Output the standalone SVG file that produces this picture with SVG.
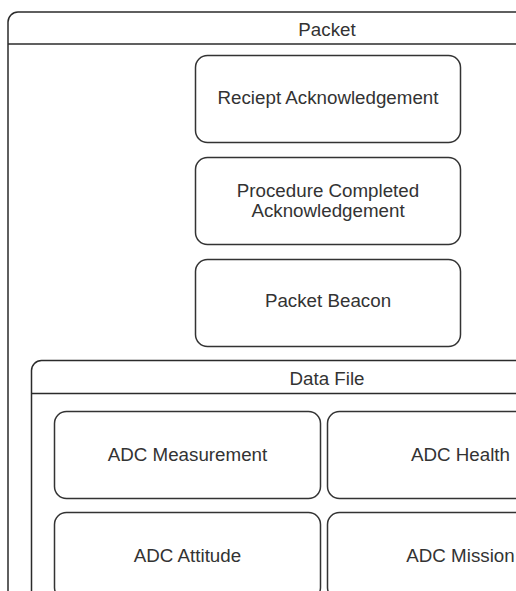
<svg xmlns="http://www.w3.org/2000/svg" width="516" height="591" viewBox="0 0 516 591">
  <style>
    .frame { fill: #ffffff; stroke: #2b2b2b; stroke-width: 1.5; }
    .sep { stroke: #2b2b2b; stroke-width: 1.5; fill: none; }
    .box { fill: #ffffff; stroke: #333333; stroke-width: 1.5; }
    .label { font-family: "Liberation Sans", Arial, sans-serif; font-size: 18.75px; fill: #333333; text-anchor: middle; }
  </style>
  <rect x="0" y="0" width="516" height="591" fill="#ffffff"/>

  <!-- Packet container -->
  <g id="packet">
    <rect class="frame" x="8" y="12" width="638" height="700" rx="10" ry="10"/>
    <line class="sep" x1="8" y1="44" x2="646" y2="44"/>
    <text class="label" x="327" y="35.5">Packet</text>
  </g>

  <g id="reciept-ack">
    <rect class="box" x="195.5" y="55.5" width="265" height="87" rx="12" ry="12"/>
    <text class="label" x="328" y="103.5">Reciept Acknowledgement</text>
  </g>

  <g id="procedure-ack">
    <rect class="box" x="195.5" y="157.5" width="265" height="87" rx="12" ry="12"/>
    <text class="label" x="328" y="196.5">Procedure Completed</text>
    <text class="label" x="328" y="217">Acknowledgement</text>
  </g>

  <g id="packet-beacon">
    <rect class="box" x="195.5" y="259.5" width="265" height="87" rx="12" ry="12"/>
    <text class="label" x="328" y="307">Packet Beacon</text>
  </g>

  <!-- Data File container -->
  <g id="data-file">
    <rect class="frame" x="31.5" y="360.5" width="592" height="400" rx="10" ry="10"/>
    <line class="sep" x1="31.5" y1="393.5" x2="623.5" y2="393.5"/>
    <text class="label" x="327" y="384.5">Data File</text>
  </g>

  <g id="adc-measurement">
    <rect class="box" x="54.5" y="411.5" width="266" height="87" rx="12" ry="12"/>
    <text class="label" x="187.5" y="460.5">ADC Measurement</text>
  </g>

  <g id="adc-health">
    <rect class="box" x="327.5" y="411.5" width="266" height="87" rx="12" ry="12"/>
    <text class="label" x="460.5" y="460.5">ADC Health</text>
  </g>

  <g id="adc-attitude">
    <rect class="box" x="54.5" y="512.5" width="266" height="87" rx="12" ry="12"/>
    <text class="label" x="187.5" y="561.5">ADC Attitude</text>
  </g>

  <g id="adc-mission">
    <rect class="box" x="327.5" y="512.5" width="266" height="87" rx="12" ry="12"/>
    <text class="label" x="460.5" y="561.5">ADC Mission</text>
  </g>

  <g id="connectors"></g>
</svg>
